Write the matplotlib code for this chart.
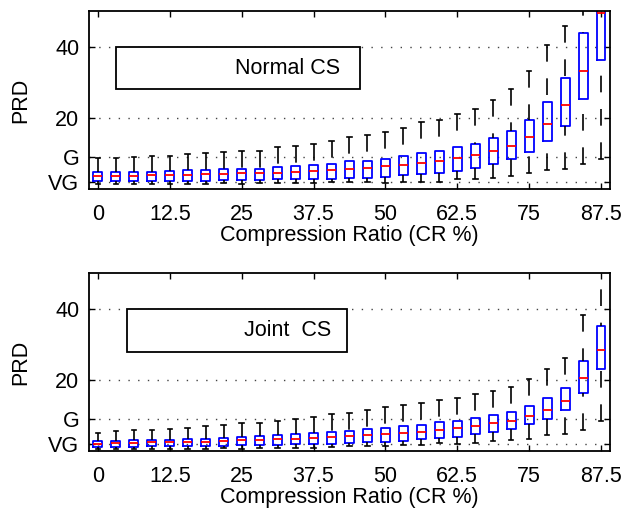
import matplotlib
matplotlib.use("Agg")
import matplotlib.pyplot as plt
from matplotlib.patches import Rectangle

plt.rcParams['font.family'] = ['Liberation Sans', 'DejaVu Sans']

# compression ratio levels (CR %)
cr_levels = [0, 3.125, 6.25, 9.375, 12.5, 15.625, 18.75, 21.875, 25, 28.125,
             31.25, 34.375, 37.5, 40.625, 43.75, 46.875, 50, 53.125, 56.25,
             59.375, 62.5, 65.625, 68.75, 71.875, 75, 78.125, 81.25, 84.375, 87.5]
xtick_vals = [0, 12.5, 25, 37.5, 50, 62.5, 75, 87.5]
xtick_labels = ['0', '12.5', '25', '37.5', '50', '62.5', '75', '87.5']
ytick_vals = [2, 9, 20, 40]
ytick_labels = ['VG', 'G', '20', '40']

# Normal CS: PRD box statistics
normal_lo = [1.3, 1.3, 1.3, 1.3, 1.3, 1.4, 1.4, 1.6, 1.4, 1.6, 1.7, 1.7, 1.7,
             1.9, 1.9, 1.9, 1.8, 2.0, 2.0, 2.1, 2.8, 2.7, 3.0, 3.7, 4.5, 5.3, 5.7, 7.1, 8.4]
normal_q1 = [2.2, 2.2, 2.2, 2.2, 2.2, 2.3, 2.3, 2.4, 2.5, 2.6, 2.7, 2.8, 2.8,
             2.8, 3.0, 3.1, 3.4, 3.8, 4.2, 4.4, 5.1, 5.9, 7.1, 8.4, 10.5, 13.6, 17.6, 25.3, 36.3]
normal_med = [3.6, 3.7, 3.7, 3.8, 3.9, 4.0, 4.1, 4.3, 4.4, 4.4, 4.6, 4.8, 5.0,
              5.2, 5.6, 5.9, 6.4, 6.8, 7.3, 8.0, 8.7, 9.6, 10.6, 12.1, 14.5, 18.3, 23.7, 33.3, 49.4]
normal_q3 = [4.7, 4.7, 4.8, 4.9, 5.0, 5.2, 5.2, 5.5, 5.7, 5.7, 6.2, 6.5, 6.8,
             7.1, 7.8, 8.0, 8.4, 9.3, 10.0, 10.6, 11.8, 12.6, 14.4, 16.2, 19.4, 24.4, 31.2, 44.0, 60.0]
normal_hi = [8.6, 8.8, 9.0, 9.3, 9.4, 9.7, 10.0, 10.4, 10.8, 10.6, 11.8, 12.1, 12.6,
             13.4, 14.5, 15.1, 16.0, 17.2, 18.7, 19.3, 21.2, 22.6, 25.0, 28.0, 33.1, 40.5, 45.8, 55.0, 75.0]

# Joint CS: PRD box statistics
joint_lo = [0.5, 0.5, 0.5, 0.6, 0.5, 0.7, 0.7, 0.8, 0.6, 1.0, 1.0, 1.0, 1.0,
            1.2, 1.4, 1.5, 1.5, 1.8, 1.8, 2.3, 2.1, 2.4, 2.8, 3.1, 3.3, 4.6, 4.9, 6.0, 8.6]
joint_q1 = [1.1, 1.1, 1.1, 1.3, 1.3, 1.4, 1.5, 1.5, 1.7, 1.8, 1.8, 2.0, 2.1,
            2.1, 2.3, 2.5, 2.7, 2.9, 3.3, 3.7, 4.1, 4.9, 5.4, 6.2, 7.5, 9.1, 11.5, 16.3, 23.0]
joint_med = [2.1, 2.2, 2.3, 2.5, 2.6, 2.6, 2.7, 2.9, 3.0, 3.1, 3.3, 3.4, 3.6,
             4.0, 4.2, 4.4, 4.8, 5.2, 5.4, 5.9, 6.6, 7.1, 7.9, 8.6, 9.9, 11.6, 14.0, 20.6, 28.5]
joint_q3 = [2.8, 2.9, 3.0, 3.1, 3.2, 3.4, 3.5, 3.7, 4.1, 4.3, 4.5, 4.8, 5.1,
            5.4, 5.7, 6.2, 6.5, 7.1, 7.4, 8.1, 8.5, 9.3, 10.1, 10.9, 12.6, 14.8, 17.8, 25.2, 35.3]
joint_hi = [5.2, 5.6, 5.9, 5.9, 6.2, 6.6, 7.0, 7.3, 7.9, 8.0, 8.6, 9.1, 9.6,
            10.3, 10.6, 11.5, 12.3, 12.9, 13.6, 14.3, 15.0, 16.0, 16.8, 17.9, 20.3, 23.1, 26.3, 38.2, 55.0]

FS = 15.5


def draw_panel(ax, lo, q1, med, q3, hi, label, box_x):
    stats = [dict(whislo=a, q1=b, med=c, q3=d, whishi=e, fliers=[])
             for a, b, c, d, e in zip(lo, q1, med, q3, hi)]
    res = ax.bxp(stats, positions=cr_levels, widths=1.56, capwidths=0.8,
                 showfliers=False, manage_ticks=False,
                 boxprops=dict(color='blue', linewidth=1.3),
                 medianprops=dict(color='red', linewidth=1.3),
                 whiskerprops=dict(color='black', linewidth=1.2, linestyle=(0, (10, 10))),
                 capprops=dict(color='black', linewidth=1.2))
    # start the dash pattern at the cap end, as in the original
    for w in res['whiskers']:
        w.set_ydata(w.get_ydata()[::-1])

    ax.set_xlim(-1.56, 89.06)
    ax.set_ylim(0, 50)
    ax.set_xticks(xtick_vals)
    ax.set_xticklabels(xtick_labels)
    ax.set_yticks(ytick_vals)
    ax.set_yticklabels(ytick_labels)
    ax.tick_params(direction='in', length=4, width=1, top=True, right=True,
                   labelsize=FS)
    ax.tick_params(axis='x', pad=11)
    ax.tick_params(axis='y', pad=7)
    ax.yaxis.grid(True, linestyle=(0, (1, 6)), color='#444444', linewidth=1)
    for sp in ax.spines.values():
        sp.set_linewidth(1.3)
    ax.set_xlabel('Compression Ratio (CR %)', fontsize=FS, labelpad=0)
    ax.set_ylabel('PRD', fontsize=FS, labelpad=12)

    ax.add_patch(Rectangle((box_x[0], 28), box_x[1] - box_x[0], 12,
                           facecolor='white', edgecolor='black', linewidth=1.3, zorder=5))
    ax.text(33, 34, label, fontsize=FS, ha='center', va='center', zorder=6)


fig = plt.figure(figsize=(6.33, 5.08), dpi=100)
ax1 = fig.add_axes([0.1406, 0.628, 0.823, 0.350])
ax2 = fig.add_axes([0.1406, 0.112, 0.823, 0.350])

draw_panel(ax1, normal_lo, normal_q1, normal_med, normal_q3, normal_hi,
           'Normal CS', (3.1, 45.5))
draw_panel(ax2, joint_lo, joint_q1, joint_med, joint_q3, joint_hi,
           'Joint  CS', (5.0, 43.4))

fig.savefig('out.png', dpi=100)
plt.close(fig)
